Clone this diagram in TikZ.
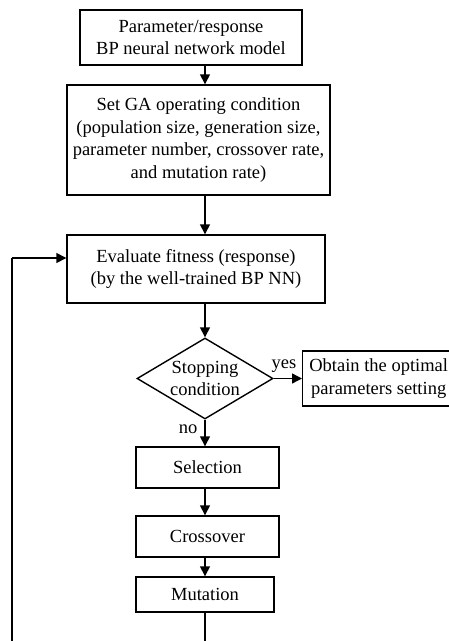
\documentclass[tikz,border=0pt]{standalone}
\usepackage{fontspec}
\setmainfont{Liberation Serif}
\usetikzlibrary{shapes.geometric,arrows.meta}
\begin{document}
\begin{tikzpicture}[x=1pt,y=-1pt,
  every node/.style={font=\fontsize{18.5}{22.5}\selectfont},
  box/.style={draw,line width=1.4pt,align=center,inner sep=0pt},
  dia/.style={draw,line width=1.4pt,diamond,aspect=1.68,align=center,inner sep=0pt,minimum width=136pt,minimum height=81pt},
  lbl/.style={inner sep=0pt},
  conn/.style={line width=1.4pt},
  arr/.style={conn,-{Triangle[length=10pt,width=10pt]}}]
\path[use as bounding box] (0,0) rectangle (449,641);
\clip (0,0) rectangle (449,641);
\node[box,minimum width=222pt,minimum height=55pt] (b1) at (191,37.5) {Parameter/response\\BP neural network model};
\node[box,minimum width=263pt,minimum height=110pt] (b2) at (198.5,140) {Set GA operating condition\\(population size, generation size,\\parameter number, crossover rate,\\and mutation rate)};
\node[box,minimum width=258pt,minimum height=68pt] (b3) at (196,269) {Evaluate fitness (response)\\(by the well-trained BP NN)};
\node[dia] (d) at (205,378.5) {Stopping\\condition};
\node[box,anchor=west,minimum width=152pt,minimum height=55pt] (ob) at (302,378.5) {Obtain the optimal\\parameters setting};
\node[box,minimum width=143pt,minimum height=41pt] (sel) at (207.5,467.5) {Selection};
\node[box,minimum width=143pt,minimum height=41pt] (cro) at (207.5,536.5) {Crossover};
\node[box,minimum width=138pt,minimum height=35pt] (mut) at (205,594.5) {Mutation};
\node[lbl] (yes) at (284,366) {yes};
\node[lbl] (no) at (188,429) {no};
\coordinate (bl) at (12,660);
\coordinate (lt) at (12,258);
\draw[arr] (b1.south -| d) -- (b2.north -| d);
\draw[arr] (b2.south -| d) -- (b3.north -| d);
\draw[arr] (b3.south -| d) -- (d.north);
\draw[arr] (d.east) -- (ob.west |- d.east);
\draw[arr] (d.south) -- (sel.north -| d);
\draw[arr] (sel.south -| d) -- (cro.north -| d);
\draw[arr] (cro.south -| d) -- (mut.north -| d);
\draw[conn] (mut.south -| d) -- (bl -| d) -- (bl) -- (lt);
\draw[arr] (lt) -- (b3.west |- lt);
\end{tikzpicture}
\end{document}
